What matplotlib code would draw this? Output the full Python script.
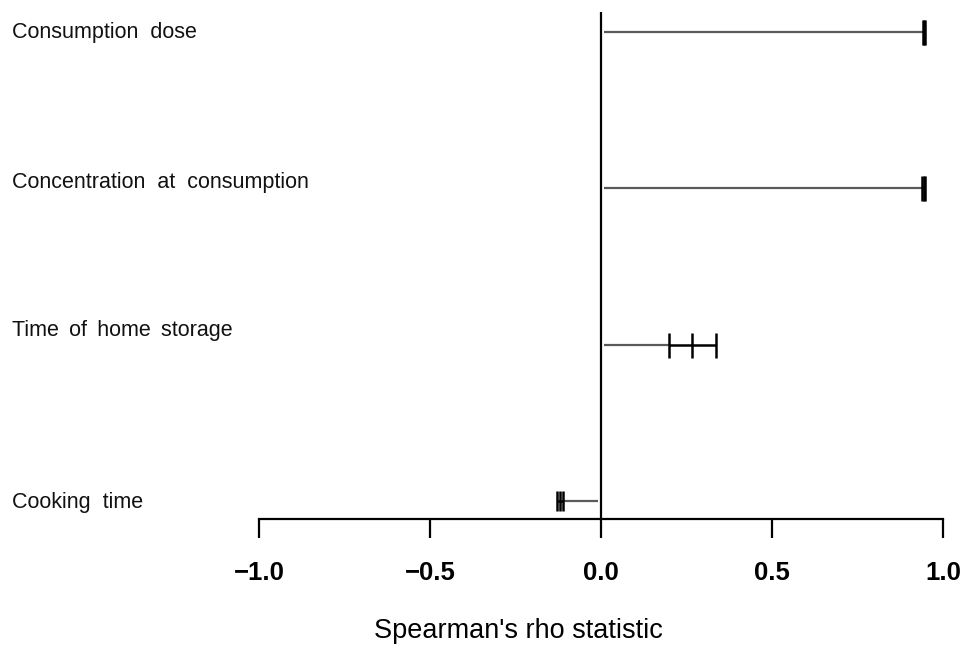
import matplotlib
matplotlib.use("Agg")
import matplotlib.pyplot as plt
import matplotlib.transforms as mtransforms

# Data
categories = ["Consumption  dose", "Concentration  at  consumption",
              "Time \u2009of \u2009home \u2009storage", "Cooking  time"]
rho_mean = [0.944, 0.943, 0.266, -0.120]
rho_lower = [0.941, 0.940, 0.199, -0.129]
rho_upper = [0.947, 0.946, 0.336, -0.111]
xticks = [-1.0, -0.5, 0.0, 0.5, 1.0]
xtick_labels = ["\u22121.0", "\u22120.5", "0.0", "0.5", "1.0"]

# positions (layout)
ypos = [4, 3, 2, 1]
label_dy = [-0.038, 0.0, 0.056, -0.045]

plt.rcParams['font.family'] = ['Liberation Sans', 'DejaVu Sans']

W, H = 969, 648
fig = plt.figure(figsize=(W / 100, H / 100), dpi=100)
left, right = 259 / W, 943 / W
bottom, top = (H - 519) / H, (H - 12) / H
ax = fig.add_axes([left, bottom, right - left, top - bottom])
ax.set_xlim(-1, 1)
y_px = 156.3
ax.set_ylim(1 - 18 / y_px, 1 + (501 - 12) / y_px)

for y, m, lo, hi in zip(ypos, rho_mean, rho_lower, rho_upper):
    end = lo if m >= 0 else hi
    ax.plot([0.008 if m >= 0 else -0.008, end], [y, y], color="#5a5a5a", lw=1.6,
            solid_capstyle="butt", zorder=2)
    cs = 9 if abs(m) > 0.2 or m > 0 else 7.5
    ax.errorbar([m], [y], xerr=[[m - lo], [hi - m]], fmt="|", color="black",
                ecolor="black", elinewidth=1.8, capsize=cs, capthick=1.8,
                markersize=2 * cs, markeredgewidth=1.8, zorder=3)

ax.axvline(0, color="black", lw=1.6, zorder=4)

for s in ["top", "right", "left"]:
    ax.spines[s].set_visible(False)
ax.spines["bottom"].set_linewidth(1.6)
ax.spines["bottom"].set_bounds(-1, 1)
ax.set_yticks([])
ax.set_xticks(xticks)
ax.set_xticklabels(xtick_labels, fontweight="bold")
ax.tick_params(axis="x", direction="out", length=14, width=1.6, pad=16, labelsize=18.5)

trans = mtransforms.blended_transform_factory(fig.transFigure, ax.transData)
for lab, y, dy in zip(categories, ypos, label_dy):
    ax.text(12 / W, y + dy, lab, transform=trans, ha="left", va="baseline",
            fontsize=15.5, color="#111111", clip_on=False)

fig.text(518 / W, (H - 631) / H, "Spearman's rho statistic", ha="center", va="center",
         fontsize=19.5)

fig.savefig("out.png", dpi=100)
